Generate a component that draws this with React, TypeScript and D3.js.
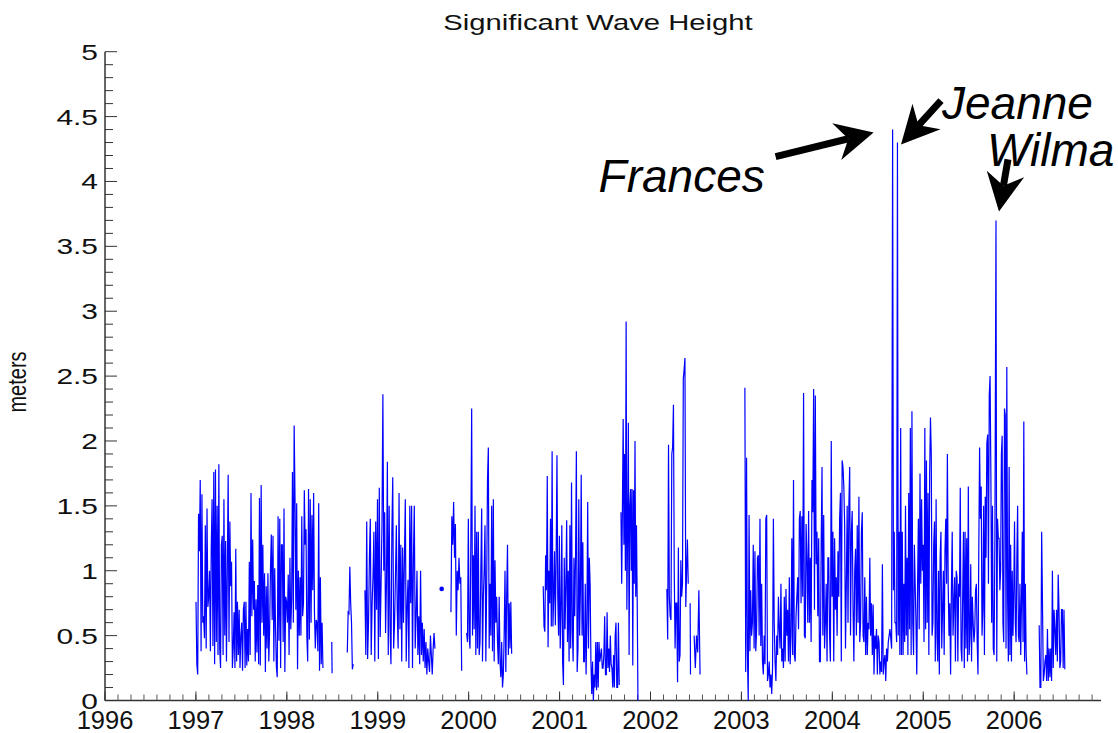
import React from 'react';
import * as d3 from 'd3';

// ---------- data ----------
const yearTicks = [1996, 1997, 1998, 1999, 2000, 2001, 2002, 2003, 2004, 2005, 2006];
const yTickValues = [0, 0.5, 1, 1.5, 2, 2.5, 3, 3.5, 4, 4.5, 5];
const yTickLabels = ['0', '0.5', '1', '1.5', '2', '2.5', '3', '3.5', '4', '4.5', '5'];

const season1997 = [0.76,0.28,0.2,1.44,1.15,1.7,0.38,1.59,0.6,0.65,0.48,1.35,0.4,1.48,0.72,0.8,1.0,0.38,1.17,1.55,0.42,1.76,0.28,1.78,0.45,1.5,0.35,1.82,0.4,0.25,1.2,1.27,0.35,1.55,0.5,1.23,0.3,1.0,1.74,0.45,1.38,0.88,1.07,0.25,0.4,0.68,0.25,1.17,0.3,0.76,0.35,0.7,0.25,0.5,0.6,0.23,0.7,0.76,0.25,0.76,0.27,0.55,0.3,1.07,0.35,1.6,0.65,1.24,0.7,0.92,0.3,0.78,0.37,0.89,0.28,1.56,0.27,1.66,0.6,1.2,0.5,0.98,0.22,0.88,0.4,0.98,0.3,0.55,1.0,1.28,0.62,1.27,0.3,1.02,0.55,0.26,0.18,1.42,0.46,1.4,0.25,1.2,1.2,0.45,1.48,0.22,0.8,0.76,0.6,0.97,0.35,1.1,0.55,0.78,1.76,0.6,2.12,1.56,0.7,1.52,0.24,1.0,0.5,0.95,0.5,1.42,0.65,0.75,1.62,1.2,1.32,0.5,0.3,1.63,0.47,1.55,0.6,1.43,0.85,1.6,0.68,0.4,0.62,0.6,0.38,1.52,0.23,0.95,0.28,0.6,0.25];
const mid1998a = [0.45, 0.21];
const mid1998b = [0.37,0.68,0.67,1.03,0.75,0.6,0.24,0.28];
const season1999 = [0.85,0.35,1.38,0.32,0.6,1.1,1.4,0.35,0.75,0.95,1.3,0.3,1.38,0.7,1.55,0.32,1.64,0.49,0.9,1.35,2.36,1.0,1.45,0.52,0.9,1.84,0.35,1.5,0.55,0.28,1.3,1.72,0.4,0.6,0.95,1.35,0.7,0.4,1.6,0.55,1.2,0.3,1.18,0.6,1.1,1.55,0.3,0.72,0.93,0.25,1.5,0.75,1.5,0.25,1.08,1.5,0.4,0.65,1.0,0.35,0.65,0.28,1.0,0.35,0.6,0.3,0.55,0.25,0.45,0.2,0.4,0.3,0.22,0.5,0.35,0.2,0.4,0.52,0.4];
const single1999 = [0.86];
const late1999 = [0.68,1.42,1.2,1.53,1.1,1.36,0.5,1.0,0.85,1.1,0.9,0.95,0.23];
const season2000 = [0.52,0.45,1.4,0.5,0.4,1.22,2.25,0.5,1.12,0.55,1.5,0.35,1.3,0.4,1.3,0.35,0.45,1.0,1.48,0.3,0.8,1.0,1.35,0.3,0.9,1.7,1.95,0.4,0.9,0.5,1.5,0.38,1.55,0.3,1.08,0.6,0.8,0.45,0.28,0.8,0.3,0.18,0.45,0.1,0.2,0.5,1.0,0.22,0.8,1.2,0.35,0.75,0.4,0.76,0.36];
const season2001 = [0.88,0.57,0.53,1.12,0.85,1.73,0.41,1.0,0.75,1.4,0.57,1.92,0.57,0.8,1.15,0.58,1.1,1.89,0.8,0.5,1.27,0.4,0.7,1.35,0.3,0.12,1.1,0.55,0.9,1.39,0.45,1.0,0.3,1.35,0.4,1.68,0.55,0.3,1.1,0.65,1.13,1.92,0.22,0.4,1.55,0.5,0.85,1.74,0.5,1.22,0.3,0.3,0.9,0.2,0.6,1.53,0.4,1.1,0.9,0.3,0.05,0.3,0.0,0.2,0.1,0.45,0.08,0.45,0.1,0.45,0.3,0.35,0.4,0.25,0.25,0.35,0.65,0.2,0.2,0.68,0.25,0.4,0.22,0.5,0.28,0.25,0.1,0.35,0.1,0.5,0.6,0.1,0.1,0.6,0.12];
const fall2001 = [1.45,0.9,1.5,2.17,1.2,1.9,1.0,2.92,0.7,1.3,2.14,0.35,1.5,1.63,1.0,1.63,0.27,1.62,0.9,2.0,0.8,1.35,0.75,0.0];
const spring2002 = [0.86,0.47,1.97,0.8,0.65,0.62,1.9,1.95,2.28,0.98,0.4,0.75,0.75,0.14,1.18,0.3,0.35,1.08,0.8,0.9,2.48,2.55,2.64,0.72,1.0,1.24,0.9];
const mid2002a = [0.75, 0.2];
const mid2002b = [0.5,0.25,0.5,0.37,0.85,0.2];
const season2003 = [2.41,0.22,1.87,0.38,0.0,1.43,0.38,0.85,0.5,0.6,1.2,0.4,1.15,0.38,0.55,1.1,1.12,0.5,1.4,0.42,0.9,0.3,0.2,0.5,0.28,1.4,1.43,0.15,0.2,0.3,0.1,0.2,0.05,0.25,1.4,0.6,0.3,0.15,0.5,0.35,0.8,0.55,0.4,0.9,0.3,0.4,0.25,0.8,0.3,0.86,0.5,0.7,0.3,0.95,0.28,0.5,1.25,0.35,1.7,0.35,0.3,0.65,0.8,0.95,0.55,1.4,1.46,0.75,1.42,0.8,2.37,0.5,0.48,1.36,1.1,0.6,1.46,0.6,1.1,0.45,1.7,1.45,2.4,0.7,2.35,1.05,1.3,0.65,1.25,0.3,0.3,1.2,1.8,0.5,1.43,0.4,0.6,0.9,0.3,1.1,1.1,0.5,0.3,2.0,0.8,1.3,0.3,1.25,0.7,0.95,0.5,1.15,0.8,1.4,1.6,0.3,1.85,1.8,1.65,1.35,0.4,0.9,1.5,0.6,1.5,1.8,0.5,1.3,1.46,0.7,0.3,1.0,1.17,0.5,1.35,0.6,1.57,0.45,0.6,1.3,1.45,0.5,0.45,0.95,0.35,0.8,0.35,0.6,0.55,1.1,0.5,0.75,0.35,0.74,0.2,0.5,0.4,0.55,0.2,0.5,0.45,0.2,0.3,0.22,1.05,0.2,0.3,0.35,0.15,0.4,0.3,0.45,0.5,0.55,0.48,0.4];
const season2004 = [4.4,0.85,1.3,0.6,0.6,0.45,4.3,0.5,1.3,0.35,2.1,0.35,1.3,0.35,0.9,0.45,1.5,0.5,1.1,0.35,1.6,0.55,2.1,0.35,2.23,0.6,0.35,1.2,0.9,0.6,0.2,0.9,1.4,0.55,1.75,0.9,1.55,1.0,1.2,0.45,2.1,0.55,1.85,0.6,1.6,0.35,1.75,2.18,1.9,0.5,0.6,1.2,1.38,0.3,1.55,0.5,0.3,1.0,0.2,1.1,1.3,0.4,0.7,1.0,0.35,1.15,1.4,0.9,1.9,0.9,0.5,0.75,0.2,0.85,1.3,0.5,0.75,0.95,0.3,1.0,0.95,0.3,0.9,0.8,1.64,0.4,0.3,0.8,1.3,0.25,1.3,0.4,1.25,0.3,1.65,0.35,0.5,1.05,0.3,0.8,0.6,0.45,0.55,0.85,0.9,0.45,0.2,1.15,1.95,1.4,1.65,0.5,0.7,1.5,0.35,1.57,1.1,1.98,2.05,0.9,2.35,2.5,1.75,0.6,1.5,0.4,0.35,1.25];
const season2005 = [3.7,0.3,1.4,1.25,1.25,0.85,1.0,1.9,2.04,0.6,0.45,2.25,2.2,0.4,2.57,0.8,0.3,1.8,0.35,1.2,0.3,1.0,0.5,0.85,1.38,0.6,0.45,1.1,1.5,0.5,0.45,0.9,0.35,0.75,1.3,0.45,2.15,0.3,0.9,0.37,0.2];
const season2006 = [0.58,0.1,0.1,1.3,0.75,0.15,0.2,0.3,0.35,0.15,0.55,0.15,0.4,0.18,0.4,0.15,1.0,0.25,0.7,0.55,0.35,0.7,0.3,0.97,0.7,0.25,0.3,0.7,0.7,0.25,0.7,0.24];

type Run = { start: number; end: number; values: number[]; join?: boolean };
const runs: Run[] = [
  { start: 1997.001, end: 1998.397, values: season1997 },
  { start: 1998.494, end: 1998.498, values: mid1998a },
  { start: 1998.665, end: 1998.73, values: mid1998b },
  { start: 1998.859, end: 1999.629, values: season1999 },
  { start: 1999.703, end: 1999.703, values: single1999 },
  { start: 1999.805, end: 1999.923, values: late1999 },
  { start: 1999.978, end: 2000.473, values: season2000 },
  { start: 2000.82, end: 2001.656, values: season2001 },
  { start: 2001.675, end: 2001.862, values: fall2001 },
  { start: 2002.18, end: 2002.415, values: spring2002 },
  { start: 2002.436, end: 2002.44, values: mid2002a },
  { start: 2002.48, end: 2002.545, values: mid2002b },
  { start: 2003.038, end: 2004.652, values: season2003 },
  { start: 2004.663, end: 2005.788, values: season2004, join: true },
  { start: 2005.8, end: 2006.14, values: season2005, join: true },
  { start: 2006.275, end: 2006.557, values: season2006 },
];

const stormNames = ['Frances', 'Jeanne', 'Wilma'];
const stormYears = [2004.663, 2004.7, 2005.8];
const stormPeaks = [4.4, 4.3, 3.7];

// ---------- layout ----------
const W = 1118;
const H = 733;
const x = d3.scaleLinear().domain([1996, 2006.955]).range([105, 1101]);
const y = d3.scaleLinear().domain([0, 5]).range([700.5, 51.7]);

// pixel offsets of arrow tip / tail / text relative to each storm peak
const annLayout = [
  { tip: [-19, 3], tail: [-117, 27], text: [-294, 62] },
  { tip: [5, 2], tail: [45, -42], text: [46, -24] },
  { tip: [3, -9], tail: [12, -61], text: [-9, -54] },
];

function buildPaths() {
  const paths: [number, number][][] = [];
  runs.forEach((r) => {
    const n = r.values.length;
    const pts: [number, number][] = r.values.map((v, i) => [
      n > 1 ? r.start + ((r.end - r.start) * i) / (n - 1) : r.start,
      v,
    ]);
    if (r.join && paths.length) paths[paths.length - 1].push(...pts);
    else paths.push(pts);
  });
  return paths;
}

function arrow(tip: number[], tail: number[]) {
  const dx = tail[0] - tip[0];
  const dy = tail[1] - tip[1];
  const d = Math.hypot(dx, dy);
  const ux = dx / d, uy = dy / d;
  const px = -uy, py = ux;
  const len = 38, half = 19, notch = 26;
  const bx = tip[0] + ux * len, by = tip[1] + uy * len;
  const nx = tip[0] + ux * notch, ny = tip[1] + uy * notch;
  const poly = [
    [tip[0], tip[1]],
    [bx + px * half, by + py * half],
    [nx, ny],
    [bx - px * half, by - py * half],
  ];
  return { poly: poly.map((p) => p.join(',')).join(' '), shaft: [tail[0], tail[1], nx, ny] };
}

export default function App() {
  const paths = buildPaths();
  const line = d3.line<[number, number]>().x((d) => x(d[0])).y((d) => y(d[1]));
  const minorX = d3.range(1996, 2006.95, 1 / 7);
  const minorY = d3.range(0, 5.001, 0.1);
  const font = '"Liberation Sans", Arial, sans-serif';
  const axisColor = '#333';

  return (
    <svg width={W} height={H} style={{ position: 'absolute', left: 0, top: 0, background: '#fff' }}>
      {/* title */}
      <text transform={`translate(598,29.5) scale(1.33,1)`} textAnchor="middle" fontSize={22} fontFamily={font} fill="#111">
        Significant Wave Height
      </text>
      {/* y label */}
      <text transform={`translate(26,382) scale(1.3,1) rotate(-90)`} textAnchor="middle" fontSize={20} fontFamily={font} fill="#111">
        meters
      </text>

      {/* axes */}
      <line x1={x(1996)} x2={x(1996)} y1={y(5)} y2={y(0)} stroke={axisColor} strokeWidth={1.5} />
      <line x1={x(1996)} x2={x.range()[1]} y1={y(0)} y2={y(0)} stroke={axisColor} strokeWidth={1.5} />
      {minorY.map((t, i) => (
        <line key={'my' + i} x1={x(1996)} x2={x(1996) + (i % 5 === 0 ? 12 : 8)} y1={y(t)} y2={y(t)} stroke={axisColor} strokeWidth={1} />
      ))}
      {yTickValues.map((t, i) => (
        <text key={'yl' + i} transform={`translate(98,${y(t) + 8}) scale(1.36,1)`} textAnchor="end" fontSize={22} fontFamily={font} fill="#111">
          {yTickLabels[i]}
        </text>
      ))}
      {minorX.map((t, i) => (
        <line key={'mx' + i} x1={x(t)} x2={x(t)} y1={y(0)} y2={y(0) - 6} stroke="#555" strokeWidth={1} />
      ))}
      {yearTicks.map((t) => (
        <g key={'xt' + t}>
          <line x1={x(t)} x2={x(t)} y1={y(0)} y2={y(0) - 9} stroke={axisColor} strokeWidth={1} />
          <text x={x(t)} y={728.5} textAnchor="middle" fontSize={25.5} fontFamily={font} fill="#111">
            {t}
          </text>
        </g>
      ))}

      {/* data */}
      {paths.map((p, i) =>
        p.length > 1 ? (
          <path key={'p' + i} d={line(p) || ''} fill="none" stroke="#0000ff" strokeWidth={1.2} strokeLinejoin="miter" />
        ) : (
          <circle key={'p' + i} cx={x(p[0][0])} cy={y(p[0][1])} r={2.3} fill="#0000ff" />
        )
      )}

      {/* annotations */}
      {stormNames.map((name, i) => {
        const sx = x(stormYears[i]);
        const sy = y(stormPeaks[i]);
        const L = annLayout[i];
        const tip = [sx + L.tip[0], sy + L.tip[1]];
        const tail = [sx + L.tail[0], sy + L.tail[1]];
        const a = arrow(tip, tail);
        return (
          <g key={name}>
            <line x1={a.shaft[0]} y1={a.shaft[1]} x2={a.shaft[2]} y2={a.shaft[3]} stroke="#000" strokeWidth={7} />
            <polygon points={a.poly} fill="#000" />
            <text x={sx + L.text[0]} y={sy + L.text[1]} fontSize={46} fontStyle="italic" fontFamily={font} fill="#000">
              {name}
            </text>
          </g>
        );
      })}
    </svg>
  );
}
